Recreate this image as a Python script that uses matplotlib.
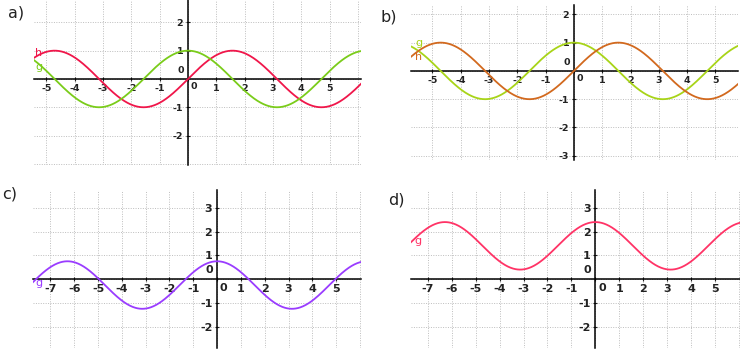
import matplotlib
matplotlib.use("Agg")
import matplotlib.pyplot as plt
import numpy as np

plt.rcParams['axes.unicode_minus'] = False
plt.rcParams['font.family'] = ['DejaVu Sans']

# panel data: curve parameters (y = amp * trig(x) + shift)
panel_names = ['a)', 'b)', 'c)', 'd)']
curve_funcs = [['sin', 'cos'], ['cos', 'sin'], ['cos'], ['cos']]
curve_names = [['h', 'g'], ['g', 'h'], ['g'], ['g']]
curve_amps = [[1.0, 1.0], [1.0, 1.0], [1.0], [1.0]]
curve_shifts = [[0.0, 0.0], [0.0, 0.0], [-0.25], [1.4]]
curve_colors = [['#f0164a', '#7acc1a'], ['#a8d418', '#d2691e'], ['#9a3cff'], ['#ff3366']]

# visible windows and tick labels
x_limits = [(-5.44, 6.11), (-5.76, 5.80), (-7.73, 6.04), (-7.70, 6.04)]
y_limits = [(-3.04, 2.79), (-3.15, 2.33), (-2.90, 3.75), (-2.90, 3.75)]
x_labeled = [list(range(-5, 6)), list(range(-5, 6)), list(range(-7, 6)), list(range(-7, 6))]
y_labeled = [[-2, -1, 1, 2], [-3, -2, -1, 1, 2], [-2, -1, 1, 2, 3], [-2, -1, 1, 2, 3]]

# axes boxes in pixels (left, top, right, bottom)
W, H = 740, 349
boxes = [(34, 0, 361, 165), (411, 5, 738, 160), (33, 190, 361, 348), (411, 190, 740, 348)]
title_pos = [(8, 13), (380, 17), (2, 194), (388, 200)]
name_pos = [[(35, 53), (35, 67)], [(415, 43), (415, 57)], [(35, 283)], [(414, 241)]]
tick_size = [6.8, 6.8, 8, 8]

fig = plt.figure(figsize=(W / 100, H / 100), dpi=100)

for i in range(4):
    l, t, r, b = boxes[i]
    ax = fig.add_axes([l / W, 1 - b / H, (r - l) / W, (b - t) / H])
    x0, x1 = x_limits[i]
    y0, y1 = y_limits[i]
    ax.set_xlim(x0, x1)
    ax.set_ylim(y0, y1)

    # grid
    for gx in range(int(np.ceil(x0)), int(np.floor(x1)) + 1):
        ax.axvline(gx, color='#bdbdbd', lw=0.7, ls=(0, (1, 1.5)), zorder=0)
    for gy in range(int(np.ceil(y0)), int(np.floor(y1)) + 1):
        ax.axhline(gy, color='#bdbdbd', lw=0.7, ls=(0, (1, 1.5)), zorder=0)

    for side in ['top', 'right']:
        ax.spines[side].set_visible(False)
    ax.spines['left'].set_position('zero')
    ax.spines['bottom'].set_position('zero')
    ax.spines['left'].set_linewidth(1.1)
    ax.spines['bottom'].set_linewidth(1.1)

    ax.set_xticks(x_labeled[i])
    ax.set_xticklabels([str(v) if v != 0 else '' for v in x_labeled[i]])
    ax.set_yticks(y_labeled[i])
    ax.set_yticklabels([str(v) for v in y_labeled[i]])
    ax.tick_params(direction='inout', length=3, width=0.8, pad=2,
                   labelsize=tick_size[i], colors='#222222')
    for lab in ax.get_xticklabels() + ax.get_yticklabels():
        lab.set_fontweight('bold')

    # origin labels
    fs = tick_size[i]
    ax.annotate('0', (0, 0), xytext=(-3, 3), textcoords='offset points',
                ha='right', va='bottom', fontsize=fs, fontweight='bold', color='#222222')
    ax.annotate('0', (0, 0), xytext=(2, -2.5), textcoords='offset points',
                ha='left', va='top', fontsize=fs, fontweight='bold', color='#222222')

    xs = np.linspace(x0, x1, 600)
    for f, a, s, c in zip(curve_funcs[i], curve_amps[i], curve_shifts[i], curve_colors[i]):
        ys = a * (np.sin(xs) if f == 'sin' else np.cos(xs)) + s
        ax.plot(xs, ys, color=c, lw=1.3, zorder=3, clip_on=True)

    for nm, (px, py), c in zip(curve_names[i], name_pos[i], curve_colors[i]):
        fig.text(px / W, 1 - py / H, nm, color=c, fontsize=8, ha='left', va='center')

    tx, ty = title_pos[i]
    fig.text(tx / W, 1 - ty / H, panel_names[i], fontsize=11.5, color='#222222',
             ha='left', va='center')

fig.savefig('out.png', dpi=100)
